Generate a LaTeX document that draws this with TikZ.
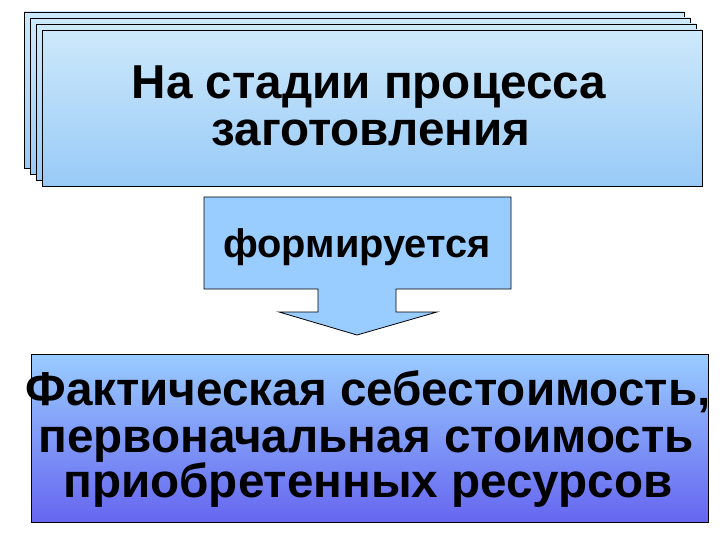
\documentclass[tikz,border=0pt]{standalone}
\usepackage{fontspec}
\setmainfont{Liberation Sans}
\definecolor{stackTop}{RGB}{205,233,251}
\definecolor{stackBot}{RGB}{152,202,247}
\definecolor{arrowFill}{RGB}{153,204,255}
\definecolor{resTop}{RGB}{153,204,255}
\definecolor{resBot}{RGB}{102,102,240}
\tikzset{
  stackbox/.style={draw=black, line width=0.8pt, top color=stackTop, bottom color=stackBot,
    minimum width=660pt, minimum height=156pt, inner sep=0pt},
  bigtext/.style={font=\fontsize{47.6}{47}\selectfont\bfseries, anchor=base, inner sep=0pt},
  midtext/.style={font=\fontsize{39.8}{40}\selectfont\bfseries, anchor=base, inner sep=0pt},
}
\begin{document}
\begin{tikzpicture}[x=1pt,y=-1pt]
\useasboundingbox (0,0) rectangle (720,540);
% stacked boxes
\node[stackbox] (s1) at (354,90) {};
\node[stackbox] (s2) at (360,96) {};
\node[stackbox] (s3) at (366,102) {};
\node[stackbox] (s4) at (372,108) {};
\node[bigtext] (t1) at (369,99) {На стадии процесса};
\node[bigtext] (t2) at (371,146) {заготовления};
% down arrow callout
\draw[line width=0.8pt, fill=arrowFill, line join=miter]
  (204,197) -- (511,197) -- (511,289) -- (396,289) -- (396,312) -- (437,312)
  -- (357,335) -- (279,312) -- (318,312) -- (318,289) -- (204,289) -- cycle;
\coordinate (tip) at (357,335);
\node[midtext] (form) at (357,258) {формируется};
% result box
\node[draw=black, line width=0.8pt, top color=resTop, bottom color=resBot,
  minimum width=677pt, minimum height=168pt, inner sep=0pt] (res) at (369.5,438) {};
\node[bigtext] (r1) at (368,405) {Фактическая себестоимость,};
\node[bigtext] (r2) at (366,452) {первоначальная стоимость};
\node[bigtext] (r3) at (368,497) {приобретенных ресурсов};
\end{tikzpicture}
\end{document}
